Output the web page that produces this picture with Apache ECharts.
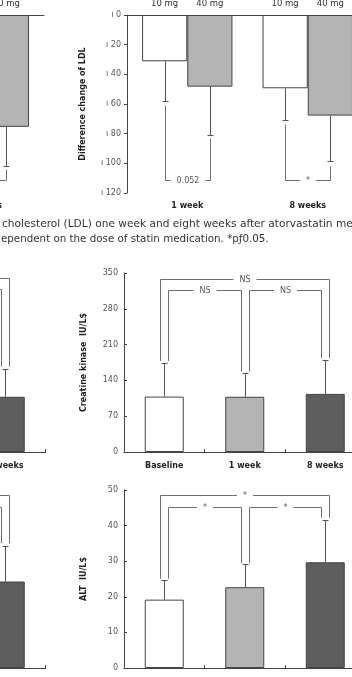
<!DOCTYPE html>
<html>
<head>
<meta charset="utf-8">
<script src="https://cdn.jsdelivr.net/npm/echarts@6/dist/echarts.min.js"></script>
<style>
  html, body { margin: 0; padding: 0; background: #fff; overflow: hidden; width: 352px; height: 677px; }
  /* the figure is a crop of a wider page: the canvas runs past both edges */
  #chart { position: absolute; left: -330px; top: 0; width: 722px; height: 677px; }
</style>
</head>
<body>
<div id="chart"></div>
<script>
// ---- LDL: difference from baseline, by dose (right panel) ----
const ldlWeeks = ['1 week', '8 weeks'];
const ldlDoses = ['10 mg', '40 mg'];
const ldl10mg = [-31.2, -49.4];
const ldl40mg = [-48.3, -67.8];
const ldl10mgErr = [-57.7, -71.0];
const ldl40mgErr = [-80.6, -98.6];
const ldlLegFrom10 = [-61.1, -73.8];
const ldlLegFrom40 = [-83.5, -102.0];
const ldlBracketAt = [-111, -111];
const ldlPLabels = ['0.052', '*'];

// LDL panel that is cut off on the left
const ldlL10mg = [null, null];
const ldlL40mg = [null, -75.4];
const ldlL10mgErr = [null, null];
const ldlL40mgErr = [null, -102.0];
const ldlLLegFrom10 = [null, null];
const ldlLLegFrom40 = [null, -104.2];
const ldlLBracketAt = [null, -111];
const ldlLPLabels = ['', ''];

// ---- Creatine kinase / ALT ----
const visits = ['Baseline', '1 week', '8 weeks'];
const ckMean = [108.3, 108.0, 113.6];
const ckErr = [175.0, 154.0, 179.6];
// [from, to, level, leg end at from, leg end at to, label]
const ckBrackets = [
  [0, 2, 338, 178, 183.5, 'NS'],
  [0, 1, 316, 178, 157.3, 'NS'],
  [1, 2, 316, 157.3, 183.5, 'NS']
];
const ckLMean = [null, null, 108.0];
const ckLErr = [null, null, 162.0];
const ckLBrackets = [
  [0, 2, 339.5, null, 167, ''],
  [1, 2, 319, null, 167, '']
];

const altMean = [19.2, 22.7, 29.7];
const altErr = [24.8, 29.2, 41.6];
const altBrackets = [
  [0, 2, 48.7, 25.1, 42.2, '*'],
  [0, 1, 45.2, 25.1, 29.4, '*'],
  [1, 2, 45.2, 29.4, 42.2, '*']
];
const altLMean = [null, null, 24.3];
const altLErr = [null, null, 34.4];
const altLBrackets = [
  [0, 2, 48.6, null, 35.0, ''],
  [1, 2, 45.3, null, 35.1, '']
];

const caption1 = 'cholesterol (LDL) one week and eight weeks after atorvastatin me';
const caption2 = 'ependent on the dose of statin medication. *p\u01920.05.';

const SHIFT = 330; // canvas starts this far left of the page
const FONT = 'DejaVu Sans';
const AXIS = '#444';
const LINE = '#6e6e6e';
const ERR = '#555';
const visitColors = ['#ffffff', '#b4b4b4', '#5e5e5e'];
const doseColors = ['#ffffff', '#b4b4b4'];
const DOSE_SHIFT = 0.1875; // bar centre offset as share of band (25% gap, 2 bars)

const chart = echarts.init(document.getElementById('chart'));

function errorSeries(xIdx, yIdx, means, errs, shift) {
  return {
    type: 'custom', xAxisIndex: xIdx, yAxisIndex: yIdx, silent: true, z: 3,
    data: means.map((m, i) => [i, m, errs[i]]).filter(d => d[1] != null && d[2] != null),
    renderItem: (params, api) => {
      const c = api.value(0);
      const a = api.coord([c, api.value(1)]);
      const b = api.coord([c, api.value(2)]);
      const x = Math.round(a[0] + shift * api.size([1, 0])[0]) + 0.5;
      const y = Math.round(b[1]) + 0.5;
      return { type: 'group', children: [
        { type: 'line', shape: { x1: x, y1: a[1], x2: x, y2: y }, style: { stroke: ERR, lineWidth: 1 } },
        { type: 'line', shape: { x1: x - 3, y1: y, x2: x + 3, y2: y }, style: { stroke: ERR, lineWidth: 1 } }
      ] };
    }
  };
}

function bracketText(text, x, y) {
  return {
    type: 'text', x: x, y: y, z2: 10,
    style: {
      text: text, fill: '#555', font: '8px "' + FONT + '"',
      align: 'center', verticalAlign: 'middle', textAlign: 'center', textVerticalAlign: 'middle',
      backgroundColor: '#fff', padding: [1, 6]
    }
  };
}

function bracketSeries(xIdx, yIdx, list) {
  return {
    type: 'custom', xAxisIndex: xIdx, yAxisIndex: yIdx, silent: true, z: 4,
    data: list.map(b => [b[0], b[2]]),
    renderItem: (params, api) => {
      const b = list[params.dataIndex];
      const outer = b[1] - b[0] > 1;
      const x1 = Math.round(api.coord([b[0], 0])[0] + (outer ? -4 : 4)) + 0.5;
      const x2 = Math.round(api.coord([b[1], 0])[0] + (outer ? 4 : -4)) + 0.5;
      const y = Math.round(api.coord([b[0], b[2]])[1]) + 0.5;
      const pts = [];
      if (b[3] != null) pts.push([x1, api.coord([b[0], b[3]])[1]]);
      pts.push([x1, y], [x2, y]);
      if (b[4] != null) pts.push([x2, api.coord([b[1], b[4]])[1]]);
      const kids = [{ type: 'polyline', shape: { points: pts }, style: { stroke: LINE, lineWidth: 1, fill: 'none' } }];
      if (b[5]) kids.push(bracketText(b[5], (x1 + x2) / 2, y));
      return { type: 'group', children: kids };
    }
  };
}

function doseBracketSeries(xIdx, yIdx, from10, from40, at, labels) {
  const list = at.map((l, i) => [i, l, from10[i], from40[i], labels[i]]).filter(b => b[1] != null);
  return {
    type: 'custom', xAxisIndex: xIdx, yAxisIndex: yIdx, silent: true, z: 4,
    data: list.map(b => [b[0], b[1]]),
    renderItem: (params, api) => {
      const b = list[params.dataIndex];
      const band = api.size([1, 0])[0];
      const cx = api.coord([b[0], 0])[0];
      const x1 = Math.round(cx - DOSE_SHIFT * band) + 0.5;
      const x2 = Math.round(cx + DOSE_SHIFT * band) + 0.5;
      const y = Math.round(api.coord([b[0], b[1]])[1]) + 0.5;
      const pts = [];
      if (b[2] != null) pts.push([x1, api.coord([b[0], b[2]])[1]]);
      pts.push([x1, y], [x2, y]);
      if (b[3] != null) pts.push([x2, api.coord([b[0], b[3]])[1]]);
      const kids = [{ type: 'polyline', shape: { points: pts }, style: { stroke: LINE, lineWidth: 1, fill: 'none' } }];
      if (b[4]) kids.push(bracketText(b[4], (x1 + x2) / 2, y));
      return { type: 'group', children: kids };
    }
  };
}

function doseLabelSeries(xIdx, yIdx) {
  const items = [];
  ldlWeeks.forEach((w, i) => ldlDoses.forEach((d, j) => items.push([i, j])));
  return {
    type: 'custom', xAxisIndex: xIdx, yAxisIndex: yIdx, silent: true, z: 4,
    data: items.map(it => [it[0], 0]),
    renderItem: (params, api) => {
      const it = items[params.dataIndex];
      const band = api.size([1, 0])[0];
      const p = api.coord([it[0], 0]);
      return {
        type: 'text', x: p[0] + (it[1] ? 1 : -1) * DOSE_SHIFT * band, y: p[1] - 11,
        style: {
          text: ldlDoses[it[1]], fill: '#333', font: '8.5px "' + FONT + '"',
          align: 'center', verticalAlign: 'middle', textAlign: 'center', textVerticalAlign: 'middle'
        }
      };
    }
  };
}

function doseBars(xIdx, yIdx, vals, k) {
  return {
    type: 'bar', xAxisIndex: xIdx, yAxisIndex: yIdx, name: ldlDoses[k],
    data: vals, barGap: '0%', barCategoryGap: '25%', z: 2,
    itemStyle: { color: doseColors[k], borderColor: AXIS, borderWidth: 1 }
  };
}

function visitBars(xIdx, yIdx, vals) {
  return {
    type: 'bar', xAxisIndex: xIdx, yAxisIndex: yIdx, barWidth: 39, z: 2,
    data: vals.map((v, i) => ({ value: v, itemStyle: { color: visitColors[i] } })),
    itemStyle: { borderColor: AXIS, borderWidth: 1 }
  };
}

const tickLabel = { fontSize: 8, color: '#555', fontFamily: FONT };
const catLabel = { fontSize: 8, fontWeight: 'bold', color: '#222', fontFamily: FONT, margin: 9 };
const nameStyle = { fontSize: 8, fontWeight: 'bold', color: '#222', fontFamily: FONT };

function ldlY(grid) {
  return {
    gridIndex: grid, type: 'value', min: -120, max: 0, interval: 20,
    axisLine: { show: true, lineStyle: { color: AXIS } },
    axisTick: { show: true, length: 3, lineStyle: { color: AXIS } },
    axisLabel: Object.assign({ margin: 6, formatter: v => '\u0131 ' + Math.abs(v) }, tickLabel),
    splitLine: { show: false },
    name: 'Difference change of LDL', nameLocation: 'middle', nameGap: 40, nameRotate: 90,
    nameTextStyle: nameStyle
  };
}

function visitY(grid, max, interval, name) {
  return {
    gridIndex: grid, type: 'value', min: 0, max: max, interval: interval,
    axisLine: { show: true, lineStyle: { color: AXIS } },
    axisTick: { show: true, inside: true, length: 3, lineStyle: { color: AXIS } },
    axisLabel: Object.assign({ margin: 6 }, tickLabel),
    splitLine: { show: false },
    name: name, nameLocation: 'middle', nameGap: 36, nameRotate: 90,
    nameTextStyle: nameStyle
  };
}

function ldlTopX(grid) {
  return {
    gridIndex: grid, type: 'category', data: ldlWeeks, position: 'top',
    axisLine: { show: true, onZero: false, lineStyle: { color: AXIS } },
    axisTick: { show: false }, axisLabel: { show: false }
  };
}

function ldlBottomX(grid) {
  return {
    gridIndex: grid, type: 'category', data: ldlWeeks, position: 'bottom',
    axisLine: { show: false, onZero: false }, axisTick: { show: false },
    axisLabel: catLabel
  };
}

function visitX(grid) {
  return {
    gridIndex: grid, type: 'category', data: visits, position: 'bottom',
    axisLine: { show: true, onZero: false, lineStyle: { color: AXIS } },
    axisTick: { show: true, inside: true, length: 3, lineStyle: { color: AXIS } },
    axisLabel: Object.assign({}, catLabel, { margin: 10 })
  };
}

function grid(left, top, width, height) {
  return { left: SHIFT + left, top: top, width: width, height: height, outerBoundsMode: 'none', containLabel: false };
}

const option = {
  animation: false,
  backgroundColor: '#fff',
  grid: [
    grid(127, 15, 241, 178),
    grid(-197, 15, 241, 178),
    grid(124, 273, 241.5, 179),
    grid(-196, 273, 241.5, 179),
    grid(124, 490, 241.5, 178),
    grid(-196, 490, 241.5, 178)
  ],
  xAxis: [
    ldlTopX(0), ldlBottomX(0), ldlTopX(1), ldlBottomX(1),
    visitX(2), visitX(3), visitX(4), visitX(5)
  ],
  yAxis: [
    ldlY(0), ldlY(1),
    visitY(2, 350, 70, 'Creatine kinase  IU/L$'), visitY(3, 350, 70, 'Creatine kinase  IU/L$'),
    visitY(4, 50, 10, 'ALT  IU/L$'), visitY(5, 50, 10, 'ALT  IU/L$')
  ],
  graphic: [
    { type: 'text', left: SHIFT + 2, top: 219, style: { text: caption1, font: '10.6px "' + FONT + '"', fill: '#333' } },
    { type: 'text', left: SHIFT + 1, top: 234, style: { text: caption2, font: '10.3px "' + FONT + '"', fill: '#333' } }
  ],
  series: [
    // LDL right
    doseBars(1, 0, ldl10mg, 0),
    doseBars(1, 0, ldl40mg, 1),
    errorSeries(1, 0, ldl10mg, ldl10mgErr, -DOSE_SHIFT),
    errorSeries(1, 0, ldl40mg, ldl40mgErr, DOSE_SHIFT),
    doseBracketSeries(1, 0, ldlLegFrom10, ldlLegFrom40, ldlBracketAt, ldlPLabels),
    doseLabelSeries(1, 0),
    // LDL left (cut off)
    doseBars(3, 1, ldlL10mg, 0),
    doseBars(3, 1, ldlL40mg, 1),
    errorSeries(3, 1, ldlL10mg, ldlL10mgErr, -DOSE_SHIFT),
    errorSeries(3, 1, ldlL40mg, ldlL40mgErr, DOSE_SHIFT),
    doseBracketSeries(3, 1, ldlLLegFrom10, ldlLLegFrom40, ldlLBracketAt, ldlLPLabels),
    doseLabelSeries(3, 1),
    // CK
    visitBars(4, 2, ckMean),
    errorSeries(4, 2, ckMean, ckErr, 0),
    bracketSeries(4, 2, ckBrackets),
    visitBars(5, 3, ckLMean),
    errorSeries(5, 3, ckLMean, ckLErr, 0),
    bracketSeries(5, 3, ckLBrackets),
    // ALT
    visitBars(6, 4, altMean),
    errorSeries(6, 4, altMean, altErr, 0),
    bracketSeries(6, 4, altBrackets),
    visitBars(7, 5, altLMean),
    errorSeries(7, 5, altLMean, altLErr, 0),
    bracketSeries(7, 5, altLBrackets)
  ]
};

chart.setOption(option);
</script>
</body>
</html>
